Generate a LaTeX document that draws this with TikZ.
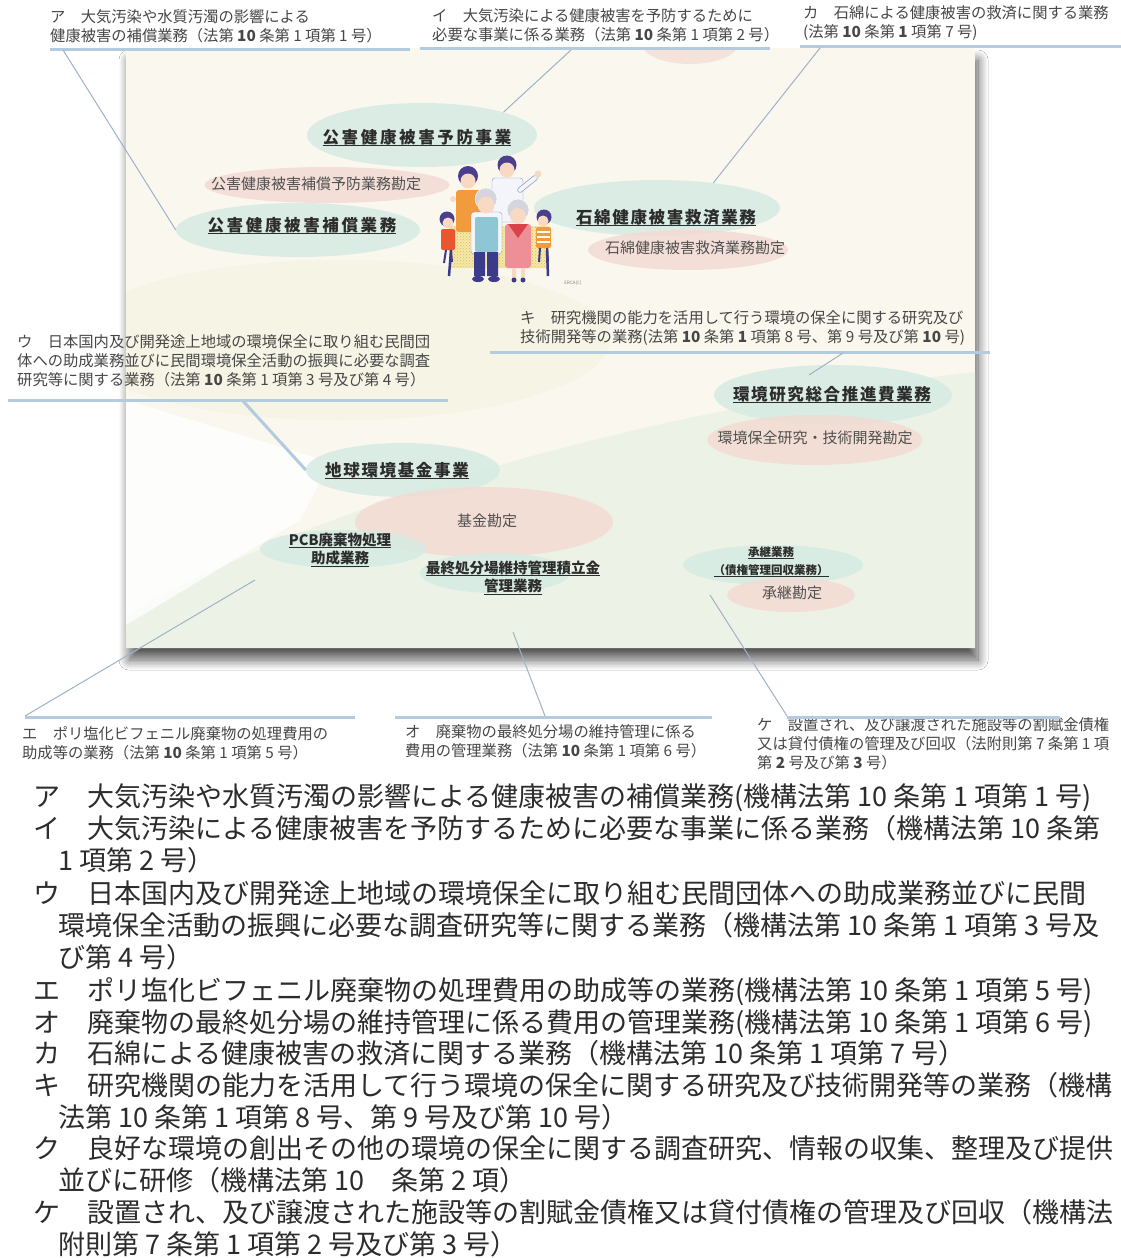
\documentclass[tikz,border=0pt]{standalone}
\usepackage{fontspec}
\setmainfont{Noto Sans CJK JP}
\newfontfamily\spaced{Noto Sans CJK JP}[LetterSpace=10]
\usetikzlibrary{shapes.geometric,shadows.blur,patterns}

\definecolor{ink}{HTML}{2C2C2C}
\definecolor{labelgray}{HTML}{474747}
\definecolor{acctgray}{HTML}{505050}
\definecolor{barblue}{HTML}{B3CADF}
\definecolor{leadblue}{HTML}{9EB3C7}
\definecolor{cream}{HTML}{F9F7EE}
\definecolor{wash}{HTML}{F6F4E5}
\definecolor{band}{HTML}{EDF2E6}
\definecolor{mint}{HTML}{D5EBE3}
\definecolor{blush}{HTML}{F3DBD3}
% colours of the family drawing
\definecolor{hair}{HTML}{4A3F8C}
\definecolor{grayhair}{HTML}{D5D5DE}
\definecolor{skin}{HTML}{F7D9C4}
\definecolor{orangetop}{HTML}{F29B3C}
\definecolor{redtop}{HTML}{E8572F}
\definecolor{shirt}{HTML}{F3F5FB}
\definecolor{shirtline}{HTML}{8F9CC9}
\definecolor{vest}{HTML}{8EC6D5}
\definecolor{navy}{HTML}{3C3A8A}
\definecolor{dress}{HTML}{EE8F98}
\definecolor{scarf}{HTML}{D8434B}
\definecolor{benchyellow}{HTML}{F5E9A6}
\definecolor{benchdot}{HTML}{E2B66A}

% stacked lines, first baseline on top
\newcommand\lns[1]{\vtop{\let\\\cr\halign{##\hfil\cr#1\crcr}}}
\newcommand\ctr[1]{\vtop{\let\\\cr\halign{\hfil##\hfil\cr#1\crcr}}}
\newcommand\undr[1]{\setbox0=\hbox{#1}\rlap{\rule[-3.4pt]{\wd0}{1.3pt}}\box0}
\newcommand\cont{\hspace*{25pt}}

\begin{document}
\begin{tikzpicture}
[x=1pt,y=-1pt,
 lbl/.style={anchor=base west,inner sep=0pt,text=labelgray,font=\fontsize{15.3}{19}\selectfont},
 item/.style={anchor=base west,inner sep=0pt,text=ink,font=\fontsize{27}{32}\selectfont},
 bar/.style={draw=barblue,line width=3pt},
 lead/.style={draw=leadblue,line width=1pt},
 biz/.style={ellipse,fill=mint,fill opacity=.85,inner sep=0pt},
 acct/.style={ellipse,fill=blush,fill opacity=.85,inner sep=0pt},
 title/.style={anchor=base,inner sep=0pt,text=ink,font=\spaced\fontsize{16.5}{19}\selectfont\bfseries},
 wide/.style={font=\spaced\fontsize{16.5}{19}\selectfont\bfseries\addfontfeature{LetterSpace=16}},
 sub/.style={anchor=base,inner sep=0pt,text=ink,font=\fontsize{14.5}{18.5}\selectfont\bfseries},
 small/.style={anchor=base,inner sep=0pt,text=ink,font=\fontsize{11.5}{18}\selectfont\bfseries},
 acctname/.style={anchor=base,inner sep=0pt,text=acctgray,font=\fontsize{15}{18}\selectfont}]

\useasboundingbox (0,0) rectangle (1121,1258);
\fill[white] (0,0) rectangle (1121,1258);

% the card and its shadow
\fill[cream,blur shadow={shadow xshift=3pt,shadow yshift=-12pt,shadow blur radius=10pt,shadow blur steps=12,shadow opacity=65}]
  (126,48) rectangle (975,648);
\begin{scope}
  \clip (126,48) rectangle (975,648);
  \fill[wash] (340,340) ellipse [x radius=270, y radius=80];
  \fill[band] (126,648) -- (126,615) .. controls (330,500) and (640,410) .. (975,372) -- (975,648) -- cycle;
  \fill[white,opacity=.8] (126,400) -- (330,462) -- (300,520) -- (126,625) -- cycle;
  \fill[blush,opacity=.7] (690,44) ellipse [x radius=48, y radius=20];
\end{scope}

% business / account blobs
\node[acct,minimum width=245pt,minimum height=36pt] (hoshouYobou) at (327,185) {};
\node[biz, minimum width=230pt,minimum height=64pt] (yobou)       at (422,135) {};
\node[biz, minimum width=244pt,minimum height=54pt] (hoshou)      at (298,230) {};
\node[biz, minimum width=246pt,minimum height=56pt] (ishiwata)    at (657,208) {};
\node[acct,minimum width=200pt,minimum height=40pt] (ishiwataAcct) at (688,250) {};
\node[biz, minimum width=238pt,minimum height=60pt] (kenkyu)      at (833,395) {};
\node[acct,minimum width=215pt,minimum height=50pt] (kenkyuAcct)  at (815,440) {};
\node[biz, minimum width=194pt,minimum height=54pt] (kikin)       at (403,470) {};
\node[acct,minimum width=258pt,minimum height=70pt] (kikinAcct)   at (484,522) {};
\node[biz, minimum width=166pt,minimum height=38pt] (pcb)         at (343,549) {};
\node[biz, minimum width=150pt,minimum height=40pt] (saishu)      at (495,573) {};
\node[biz, minimum width=180pt,minimum height=40pt] (shoukei)     at (773,565) {};
\node[acct,minimum width=128pt,minimum height=34pt] (shoukeiAcct) at (791,595) {};

% names on the blobs
\node[title,wide] (yobouT) at (417,143) {\undr{公害健康被害予防事業}};
\node[acctname] (hoshouYobouT) at (316,189) {公害健康被害補償予防業務勘定};
\node[title,wide] (hoshouT) at (302,231) {\undr{公害健康被害補償業務}};
\node[title] (ishiwataT) at (666,223) {\undr{石綿健康被害救済業務}};
\node[acctname] (ishiwataAcctT) at (695,253) {石綿健康被害救済業務勘定};
\node[title] (kenkyuT)   at (832,400) {\undr{環境研究総合推進費業務}};
\node[acctname] (kenkyuAcctT) at (815,443) {環境保全研究・技術開発勘定};
\node[title] (kikinT)    at (397,476) {\undr{地球環境基金事業}};
\node[acctname] (kikinAcctT) at (487,526) {基金勘定};
\node[sub] (pcbT)        at (340,545) {\ctr{\undr{PCB廃棄物処理}\\\undr{助成業務}}};
\node[sub] (saishuT)     at (513,573) {\ctr{\undr{最終処分場維持管理積立金}\\\undr{管理業務}}};
\node[small] (shoukeiT)  at (771,556) {\ctr{\undr{承継業務}\\\undr{（債権管理回収業務）}}};
\node[acctname] (shoukeiAcctT) at (792,598) {承継勘定};

% family on the bench
\fill[benchyellow] (449,226) rectangle (549,268);
\fill[pattern=crosshatch dots,pattern color=benchdot] (449,226) rectangle (549,268);
\draw[navy,line width=2.5pt] (451,250) -- (449,276) (547,250) -- (548,276);
\fill[orangetop,rounded corners=3pt] (456,190) rectangle (481,232);
\fill[skin] (453,199) circle (3);
\fill[shirt,draw=shirtline,rounded corners=3pt] (492,178) rectangle (523,222);
\draw[shirtline,line width=5.5pt,line cap=round] (520,190) -- (535,178);
\draw[shirt,line width=4pt,line cap=round] (520,190) -- (535,178);
\fill[skin] (538,174) circle (3.5);
\foreach \x/\y/\r in {468/176/10, 507/165/9.5, 447/219/7.5, 544/217/7.5}
  \fill[hair] (\x,\y) circle (\r);
\foreach \x/\y/\r in {468/181/7.5, 507/170/7.5, 448/223/5.5, 543/221/5.5}
  \fill[skin] (\x,\y) circle (\r);
\fill[redtop,rounded corners=2pt] (441,229) rectangle (455,250);
\draw[navy,line width=2pt] (446,250) -- (444,263) (451,250) -- (452,262);
\fill[orangetop,rounded corners=2pt] (536,227) rectangle (551,248);
\foreach \y in {232,237,242}
  \draw[white,line width=1.2pt] (537,\y) -- (550,\y);
\draw[navy,line width=2pt] (540,248) -- (539,262) (547,248) -- (548,262);
\fill[shirt,draw=shirtline,rounded corners=3pt] (471,212) rectangle (502,254);
\fill[vest,rounded corners=2pt] (475,217) rectangle (498,252);
\fill[navy] (474,252) rectangle (485,276) (487,252) rectangle (498,276);
\fill[navy] (478,279) ellipse [x radius=6, y radius=3] (494,279) ellipse [x radius=6, y radius=3];
\fill[grayhair,draw=white] (486,199) circle (11);
\fill[skin] (486,205) circle (8.5);
\fill[dress,rounded corners=3pt] (505,224) rectangle (531,268);
\fill[scarf] (508,224) -- (528,224) -- (518,238) -- cycle;
\fill[skin] (512,268) rectangle (516,278) (521,268) rectangle (525,278);
\fill[navy] (514,280) circle (2.5) (523,280) circle (2.5);
\fill[grayhair,draw=white] (518,210) circle (11);
\fill[skin] (518,216) circle (8);
\node[anchor=base,inner sep=0pt,text=gray,font=\fontsize{4.5}{5}\selectfont] (erca) at (573,284) {ERCA(C)};

% labels above the card
\node[lbl] (lblA)  at (50,23)  {\lns{ア　大気汚染や水質汚濁の影響による\\健康被害の補償業務（法第 \textbf{10} 条第 1 項第 1 号）}};
\node[lbl] (lblI)  at (432,21) {\lns{イ　大気汚染による健康被害を予防するために\\必要な事業に係る業務（法第 \textbf{10} 条第 1 項第 2 号）}};
\node[lbl] (lblKa) at (803,19) {\lns{カ　石綿による健康被害の救済に関する業務\\(法第 \textbf{10} 条第 \textbf{1} 項第 7 号)}};
\node[lbl] (lblKi) at (520,323) {\lns{キ　研究機関の能力を活用して行う環境の保全に関する研究及び\\技術開発等の業務(法第 \textbf{10} 条第 \textbf{1} 項第 8 号、第 9 号及び第 \textbf{10} 号)}};
\node[lbl] (lblU)  at (17,347) {\lns{ウ　日本国内及び開発途上地域の環境保全に取り組む民間団\\体への助成業務並びに民間環境保全活動の振興に必要な調査\\研究等に関する業務（法第 \textbf{10} 条第 1 項第 3 号及び第 4 号）}};
% labels below the card
\node[lbl] (lblE)  at (22,739) {\lns{エ　ポリ塩化ビフェニル廃棄物の処理費用の\\助成等の業務（法第 \textbf{10} 条第 1 項第 5 号）}};
\node[lbl] (lblO)  at (405,737) {\lns{オ　廃棄物の最終処分場の維持管理に係る\\費用の管理業務（法第 \textbf{10} 条第 1 項第 6 号）}};
\node[lbl] (lblKe) at (757,730) {\lns{ケ　設置され、及び譲渡された施設等の割賦金債権\\又は貸付債権の管理及び回収（法附則第 7 条第 1 項\\第 \textbf{2} 号及び第 \textbf{3} 号）}};

% bars under the labels
\draw[bar] (50,49) -- (410,49);
\draw[bar] (420,48) -- (770,48);
\draw[bar] (800,46) -- (1121,46);
\draw[bar] (490,352) -- (990,352);
\draw[bar] (8,400) -- (448,400);
\draw[bar] (25,717) -- (355,717);
\draw[bar] (395,717) -- (712,717);
\draw[bar] (787,717) -- (1060,717);

% leader lines
\coordinate (footA)  at (63,50);
\coordinate (footI)  at (571,50);
\coordinate (footKa) at (820,48);
\coordinate (footKi) at (843,353);
\coordinate (footU)  at (243,401);
\coordinate (footE)  at (25,716);
\coordinate (footO)  at (545,716);
\coordinate (footKe) at (787,716);
\coordinate (tipKi)  at (809,375);
\coordinate (tipE)   at (255,580);
\coordinate (tipO)   at (513,632);
\coordinate (tipKe)  at (710,595);
\draw[lead] (footA)  -- (hoshou.west);
\draw[lead] (footI)  -- (yobou.north east);
\draw[lead] (footKa) -- (ishiwata.24);
\draw[lead] (footKi) -- (tipKi);
\draw[bar]  (footU)  -- (kikin.west);
\draw[lead] (footE)  -- (tipE);
\draw[lead] (footO)  -- (tipO);
\draw[lead] (footKe) -- (tipKe);

% list of the duties
\node[item] (itemA)  at (33,806)  {ア　大気汚染や水質汚濁の影響による健康被害の補償業務(機構法第 10 条第 1 項第 1 号)};
\node[item] (itemI)  at (33,838)  {\lns{イ　大気汚染による健康被害を予防するために必要な事業に係る業務（機構法第 10 条第\\\cont 1 項第 2 号）}};
\node[item] (itemU)  at (33,903)  {\lns{ウ　日本国内及び開発途上地域の環境保全に取り組む民間団体への助成業務並びに民間\\\cont 環境保全活動の振興に必要な調査研究等に関する業務（機構法第 10 条第 1 項第 3 号及\\\cont び第 4 号）}};
\node[item] (itemE)  at (33,1000) {エ　ポリ塩化ビフェニル廃棄物の処理費用の助成等の業務(機構法第 10 条第 1 項第 5 号)};
\node[item] (itemO)  at (33,1032) {オ　廃棄物の最終処分場の維持管理に係る費用の管理業務(機構法第 10 条第 1 項第 6 号)};
\node[item] (itemKa) at (33,1063) {カ　石綿による健康被害の救済に関する業務（機構法第 10 条第 1 項第 7 号）};
\node[item] (itemKi) at (33,1095) {\lns{キ　研究機関の能力を活用して行う環境の保全に関する研究及び技術開発等の業務（機構\\\cont 法第 10 条第 1 項第 8 号、第 9 号及び第 10 号）}};
\node[item] (itemKu) at (33,1158) {\lns{ク　良好な環境の創出その他の環境の保全に関する調査研究、情報の収集、整理及び提供\\\cont 並びに研修（機構法第 10　条第 2 項）}};
\node[item] (itemKe) at (33,1222) {\lns{ケ　設置され、及び譲渡された施設等の割賦金債権又は貸付債権の管理及び回収（機構法\\\cont 附則第 7 条第 1 項第 2 号及び第 3 号）}};
\end{tikzpicture}
\end{document}
